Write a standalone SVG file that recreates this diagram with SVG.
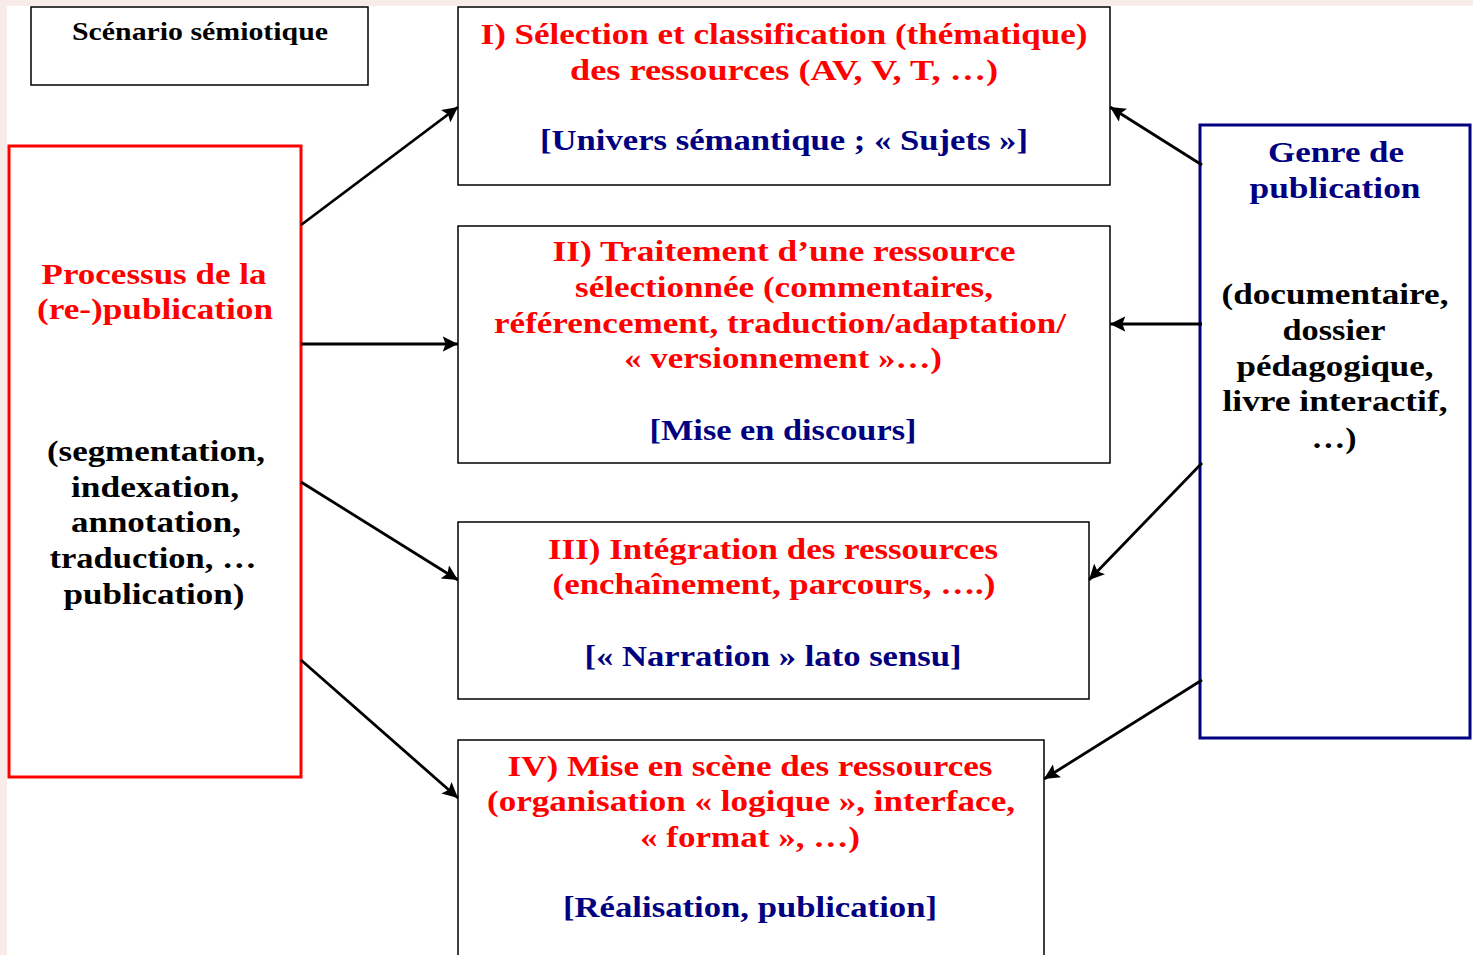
<svg xmlns="http://www.w3.org/2000/svg" width="1473" height="955" viewBox="0 0 1473 955">
<defs>
<marker id="ah" viewBox="0 0 10 10" refX="10" refY="5" markerWidth="5.5" markerHeight="5.5" markerUnits="strokeWidth" orient="auto">
<path d="M0,0 L10,5 L0,10 L2,5 z" fill="#000"/>
</marker>
<style>
.t{font-family:"Liberation Serif","Times New Roman",serif;font-weight:bold;font-size:29px;text-anchor:middle}
.r{fill:#ff0000}
.b{fill:#000080}
.k{fill:#000}
.box{fill:#fff;stroke:#000;stroke-width:1.5}
.con{stroke:#000;stroke-width:2.8;fill:none;marker-end:url(#ah)}
</style>
</defs>
<rect x="0" y="0" width="1473" height="955" fill="#f7ece7"/>
<rect x="7" y="6" width="1466" height="949" fill="#fff"/>

<g id="scenario">
<rect class="box" x="31" y="7" width="337" height="78"/>
<text class="t k" x="200" y="40" style="font-size:25px" textLength="256" lengthAdjust="spacingAndGlyphs">Scénario sémiotique</text>
</g>

<g id="box1">
<rect class="box" x="458" y="7" width="652" height="178"/>
<text class="t r" x="784" y="44" textLength="607" lengthAdjust="spacingAndGlyphs">I) Sélection et classification (thématique)</text>
<text class="t r" x="784" y="80" textLength="428" lengthAdjust="spacingAndGlyphs">des ressources (AV, V, T, …)</text>
<text class="t b" x="784" y="150" textLength="488" lengthAdjust="spacingAndGlyphs">[Univers sémantique ; « Sujets »]</text>
</g>

<g id="box2">
<rect class="box" x="458" y="226" width="652" height="237"/>
<text class="t r" x="784" y="261" textLength="463" lengthAdjust="spacingAndGlyphs">II) Traitement d’une ressource</text>
<text class="t r" x="784" y="297" textLength="418" lengthAdjust="spacingAndGlyphs">sélectionnée (commentaires,</text>
<text class="t r" x="780" y="333" textLength="572" lengthAdjust="spacingAndGlyphs">référencement, traduction/adaptation/</text>
<text class="t r" x="783" y="368" textLength="318" lengthAdjust="spacingAndGlyphs">« versionnement »…)</text>
<text class="t b" x="783" y="440" textLength="267" lengthAdjust="spacingAndGlyphs">[Mise en discours]</text>
</g>

<g id="box3">
<rect class="box" x="458" y="522" width="631" height="177"/>
<text class="t r" x="773" y="559" textLength="450" lengthAdjust="spacingAndGlyphs">III) Intégration des ressources</text>
<text class="t r" x="774" y="594" textLength="443" lengthAdjust="spacingAndGlyphs">(enchaînement, parcours, ….)</text>
<text class="t b" x="773" y="666" textLength="377" lengthAdjust="spacingAndGlyphs">[« Narration » lato sensu]</text>
</g>

<g id="box4">
<rect class="box" x="458" y="740" width="586" height="230"/>
<text class="t r" x="750" y="776" textLength="485" lengthAdjust="spacingAndGlyphs">IV) Mise en scène des ressources</text>
<text class="t r" x="751" y="811" textLength="528" lengthAdjust="spacingAndGlyphs">(organisation « logique », interface,</text>
<text class="t r" x="750" y="847" textLength="220" lengthAdjust="spacingAndGlyphs">« format », …)</text>
<text class="t b" x="750" y="917" textLength="374" lengthAdjust="spacingAndGlyphs">[Réalisation, publication]</text>
</g>

<g id="processus">
<rect x="9" y="146" width="292" height="631" fill="#fff" stroke="#ff0000" stroke-width="3"/>
<text class="t r" x="154" y="284" textLength="225" lengthAdjust="spacingAndGlyphs">Processus de la</text>
<text class="t r" x="155" y="319" textLength="236" lengthAdjust="spacingAndGlyphs">(re-)publication</text>
<text class="t k" x="156" y="461" textLength="218" lengthAdjust="spacingAndGlyphs">(segmentation,</text>
<text class="t k" x="155" y="497" textLength="168" lengthAdjust="spacingAndGlyphs">indexation,</text>
<text class="t k" x="156" y="532" textLength="170" lengthAdjust="spacingAndGlyphs">annotation,</text>
<text class="t k" x="153" y="568" textLength="207" lengthAdjust="spacingAndGlyphs">traduction, …</text>
<text class="t k" x="154" y="604" textLength="181" lengthAdjust="spacingAndGlyphs">publication)</text>
</g>

<g id="genre">
<rect x="1200" y="125" width="270" height="613" fill="#fff" stroke="#000080" stroke-width="3"/>
<text class="t b" x="1336" y="162" textLength="136" lengthAdjust="spacingAndGlyphs">Genre de</text>
<text class="t b" x="1335" y="198" textLength="171" lengthAdjust="spacingAndGlyphs">publication</text>
<text class="t k" x="1335" y="304" textLength="227" lengthAdjust="spacingAndGlyphs">(documentaire,</text>
<text class="t k" x="1334" y="340" textLength="103" lengthAdjust="spacingAndGlyphs">dossier</text>
<text class="t k" x="1335" y="376" textLength="197" lengthAdjust="spacingAndGlyphs">pédagogique,</text>
<text class="t k" x="1335" y="411" textLength="225" lengthAdjust="spacingAndGlyphs">livre interactif,</text>
<text class="t k" x="1334" y="448" textLength="45" lengthAdjust="spacingAndGlyphs">…)</text>
</g>

<g id="connectors">
<line class="con" x1="301" y1="225" x2="458" y2="107"/>
<line class="con" x1="301" y1="344" x2="458" y2="344"/>
<line class="con" x1="301" y1="482" x2="458" y2="580"/>
<line class="con" x1="301" y1="660" x2="458" y2="798"/>
<line class="con" x1="1202" y1="165" x2="1110" y2="107"/>
<line class="con" x1="1202" y1="324" x2="1110" y2="324"/>
<line class="con" x1="1202" y1="463" x2="1089" y2="580"/>
<line class="con" x1="1202" y1="680" x2="1044" y2="779"/>
</g>
</svg>
